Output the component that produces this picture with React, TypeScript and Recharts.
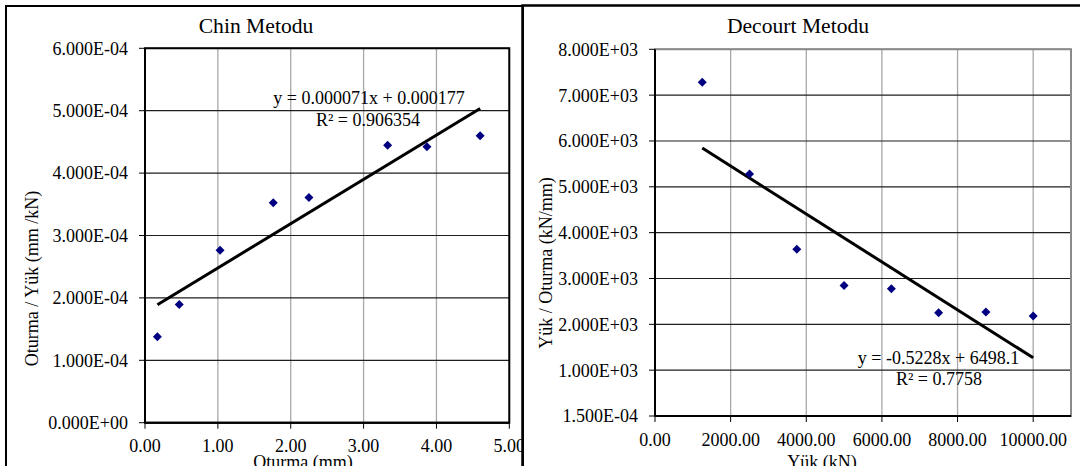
import React from 'react';
import {
  ScatterChart,
  Scatter,
  XAxis,
  YAxis,
  CartesianGrid,
  ReferenceArea,
} from 'recharts';

// ---------- Data ----------
// Chin method: settlement (mm) vs settlement / load (mm/kN)
const chinSettlement = [0.17, 0.47, 1.03, 1.76, 2.25, 3.33, 3.87, 4.6];
const chinRatio = [1.378e-4, 1.896e-4, 2.762e-4, 3.525e-4, 3.61e-4, 4.448e-4, 4.422e-4, 4.6e-4];
const chinTrendX = [0.17, 4.6];
const chinTrendY = [1.89e-4, 5.036e-4];
const chinXTicks = [0, 1, 2, 3, 4, 5];
const chinYTicks = [0, 1e-4, 2e-4, 3e-4, 4e-4, 5e-4, 6e-4];
const chinXDomain = [0, 5];
const chinYDomain = [0, 6e-4];
const chinEquation = 'y = 0.000071x + 0.000177';
const chinR2 = 'R² = 0.906354';

// Decourt method: load (kN) vs load / settlement (kN/mm)
const decourtLoad = [1250, 2500, 3750, 5000, 6250, 7500, 8750, 10000];
const decourtRatio = [7280, 5279, 3637, 2848, 2775, 2253, 2267, 2181];
const decourtTrendX = [1250, 10000];
const decourtTrendY = [5845, 1270];
const decourtXTicks = [0, 2000, 4000, 6000, 8000, 10000];
const decourtYTicks = [0.00015, 1000, 2000, 3000, 4000, 5000, 6000, 7000, 8000];
const decourtXDomain = [0, 11000];
const decourtYDomain = [0.00015, 8000];
const decourtEquation = 'y = -0.5228x + 6498.1';
const decourtR2 = 'R² = 0.7758';

const FONT = '"Liberation Serif", "Times New Roman", serif';
const FS = 18;

const toPoints = (xs: number[], ys: number[]) => xs.map((x, i) => ({ x, y: ys[i] }));

function sci(v: number): string {
  if (v === 0) return '0.000E+00';
  let e = Math.floor(Math.log10(Math.abs(v)));
  let m = v / Math.pow(10, e);
  if (Math.abs(m) >= 9.9995) {
    m /= 10;
    e += 1;
  }
  return m.toFixed(3) + 'E' + (e < 0 ? '-' : '+') + String(Math.abs(e)).padStart(2, '0');
}

const Diamond = (props: any) => {
  const { cx, cy } = props;
  if (cx == null || cy == null) return <g />;
  const r = 4.5;
  return (
    <polygon
      points={`${cx},${cy - r} ${cx + r},${cy} ${cx},${cy + r} ${cx - r},${cy}`}
      fill="#000080"
    />
  );
};

const NoShape = () => <g />;

const tickStyle = { fill: '#000', fontSize: FS, fontFamily: FONT };

export default function App() {
  const chinPts = toPoints(chinSettlement, chinRatio);
  const chinTrend = toPoints(chinTrendX, chinTrendY);
  const decPts = toPoints(decourtLoad, decourtRatio);
  const decTrend = toPoints(decourtTrendX, decourtTrendY);

  return (
    <div
      style={{
        position: 'absolute',
        left: 0,
        top: 0,
        width: 1080,
        height: 466,
        background: '#fff',
        overflow: 'hidden',
        fontFamily: FONT,
      }}
    >
      <div style={{ position: 'absolute', left: 0, top: 0 }}>
        <ScatterChart
          width={523}
          height={466}
          margin={{ top: 48.3, right: 13.7, bottom: 13.3, left: 45 }}
        >
          <CartesianGrid horizontal={false} stroke="#a8a8a8" strokeWidth={1.3} />
          <CartesianGrid vertical={false} stroke="#1e1e1e" strokeWidth={1.2} />
          <ReferenceArea
            x1={chinXDomain[0]}
            x2={chinXDomain[1]}
            y1={chinYDomain[0]}
            y2={chinYDomain[1]}
            fill="none"
            fillOpacity={0}
            stroke="#000"
            strokeWidth={2}
          />
          <XAxis
            type="number"
            dataKey="x"
            domain={chinXDomain}
            ticks={chinXTicks}
            interval={0}
            allowDataOverflow
            height={30}
            tickFormatter={(v: number) => v.toFixed(2)}
            axisLine={{ stroke: '#000', strokeWidth: 2 }}
            tickLine={{ stroke: '#000' }}
            tickSize={6}
            tickMargin={11}
            tick={tickStyle}
          />
          <YAxis
            type="number"
            dataKey="y"
            domain={chinYDomain}
            ticks={chinYTicks}
            interval={0}
            allowDataOverflow
            width={100}
            tickFormatter={sci}
            axisLine={{ stroke: '#000', strokeWidth: 2 }}
            tickLine={{ stroke: '#000' }}
            tickSize={6}
            tickMargin={11}
            tick={tickStyle}
          />
          <Scatter
            data={chinTrend}
            line={{ stroke: '#000', strokeWidth: 3 }}
            shape={NoShape}
            isAnimationActive={false}
          />
          <Scatter data={chinPts} shape={Diamond} isAnimationActive={false} />
        </ScatterChart>
      </div>

      <div style={{ position: 'absolute', left: 523, top: 0 }}>
        <ScatterChart
          width={557}
          height={466}
          margin={{ top: 49.3, right: 9, bottom: 20, left: 32 }}
        >
          <CartesianGrid horizontal={false} stroke="#a8a8a8" strokeWidth={1.3} />
          <CartesianGrid vertical={false} stroke="#1e1e1e" strokeWidth={1.2} />
          <ReferenceArea
            x1={decourtXDomain[0]}
            x2={decourtXDomain[1]}
            y1={decourtYDomain[0]}
            y2={decourtYDomain[1]}
            fill="none"
            fillOpacity={0}
            stroke="#8a8a8a"
            strokeWidth={2}
          />
          <XAxis
            type="number"
            dataKey="x"
            domain={decourtXDomain}
            ticks={decourtXTicks}
            interval={0}
            allowDataOverflow
            height={30}
            tickFormatter={(v: number) => v.toFixed(2)}
            axisLine={{ stroke: '#000', strokeWidth: 2 }}
            tickLine={{ stroke: '#000' }}
            tickSize={6}
            tickMargin={11}
            tick={tickStyle}
          />
          <YAxis
            type="number"
            dataKey="y"
            domain={decourtYDomain}
            ticks={decourtYTicks}
            interval={0}
            allowDataOverflow
            width={100}
            tickFormatter={sci}
            axisLine={{ stroke: '#000', strokeWidth: 2 }}
            tickLine={{ stroke: '#000' }}
            tickSize={6}
            tickMargin={11}
            tick={tickStyle}
          />
          <Scatter
            data={decTrend}
            line={{ stroke: '#000', strokeWidth: 3 }}
            shape={NoShape}
            isAnimationActive={false}
          />
          <Scatter data={decPts} shape={Diamond} isAnimationActive={false} />
        </ScatterChart>
      </div>

      <svg
        width={1080}
        height={466}
        style={{ position: 'absolute', left: 0, top: 0, pointerEvents: 'none' }}
        fontFamily={FONT}
      >
        {/* panel frames */}
        <rect x={6} y={6} width={517} height={520} fill="none" stroke="#000" strokeWidth={2} />
        <rect x={522.5} y={5.5} width={600} height={520} fill="none" stroke="#000" strokeWidth={2.5} />

        {/* titles */}
        <text x={256} y={32.5} textAnchor="middle" fontSize={21.6} fill="#000">
          Chin Metodu
        </text>
        <text x={798} y={32.5} textAnchor="middle" fontSize={21.6} fill="#000">
          Decourt Metodu
        </text>

        {/* equations */}
        <text x={369} y={104} textAnchor="middle" fontSize={FS} fill="#000">
          {chinEquation}
        </text>
        <text x={368} y={125.5} textAnchor="middle" fontSize={FS} fill="#000">
          {chinR2}
        </text>
        <text x={938.5} y={363.5} textAnchor="middle" fontSize={FS} fill="#000">
          {decourtEquation}
        </text>
        <text x={939} y={385} textAnchor="middle" fontSize={FS} fill="#000">
          {decourtR2}
        </text>

        {/* axis titles */}
        <text
          x={0}
          y={0}
          transform="translate(32,278.5) rotate(-90)"
          textAnchor="middle"
          dominantBaseline="central"
          fontSize={FS}
          fill="#000"
        >
          Oturma / Yük (mm /kN)
        </text>
        <text x={303} y={467.5} textAnchor="middle" fontSize={FS} fill="#000">
          Oturma (mm)
        </text>
        <text
          x={0}
          y={0}
          transform="translate(545.5,263) rotate(-90)"
          textAnchor="middle"
          dominantBaseline="central"
          fontSize={FS}
          fill="#000"
        >
          Yük / Oturma (kN/mm)
        </text>
        <text x={822} y={467.5} textAnchor="middle" fontSize={FS} fill="#000">
          Yük (kN)
        </text>
      </svg>
    </div>
  );
}
